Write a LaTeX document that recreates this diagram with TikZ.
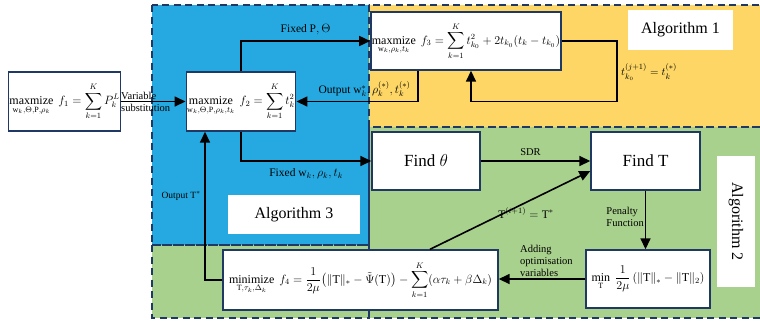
\documentclass[tikz,border=0pt]{standalone}
\usepackage{amsmath,amssymb}
\usepackage{fontspec}
\setmainfont{Liberation Serif}
\usetikzlibrary{arrows.meta,calc}
\definecolor{navy}{HTML}{1F3864}
\definecolor{blueR}{HTML}{25A9E0}
\definecolor{yellowR}{HTML}{FDD666}
\definecolor{greenR}{HTML}{A9D18E}
\newcommand{\maxop}{\mathop{\mathrm{maxmize}}\limits}
\newcommand{\minop}{\mathop{\mathrm{minimize}}\limits}
\begin{document}
\begin{tikzpicture}[x=1pt,y=-1pt,
  region/.style={draw=navy, line width=1.6pt, dash pattern=on 7pt off 4.5pt},
  mbox/.style={draw=navy, fill=white, line width=1.4pt, inner sep=1pt, font=\fontsize{12}{14}\selectfont},
  albox/.style={fill=white, inner sep=0pt, font=\fontsize{16}{18}\selectfont},
  conn/.style={line width=1.6pt, -{Triangle[length=11pt,width=10pt]}},
  lbl/.style={font=\fontsize{10.5}{11}\selectfont, inner sep=0pt, align=left},
]
\fill[white] (0,0) rectangle (760,322);
\useasboundingbox (0,0) rectangle (760,322);
% regions
\fill[blueR] (152,5) rectangle (369,245);
\fill[yellowR] (369,5) rectangle (762,127);
\fill[greenR] (369,127) rectangle (762,318);
\fill[greenR] (152,245) rectangle (369,318);
\draw[region] (152,5) rectangle (369,245);
\draw[region] (369,5) rectangle (764,127);
\draw[region] (369,127) rectangle (764,318);
\draw[region] (152,245) rectangle (369,318);
% boxes
\node[mbox, minimum width=109pt, minimum height=59pt] (f1) at (64.5,101.5)
  {$\maxop_{\mathrm{w}_k,\Theta,\mathrm{P},\rho_k}\ f_1=\displaystyle\sum_{k=1}^{K}P_k^L$};
\node[mbox, minimum width=108pt, minimum height=59pt] (f2) at (241,101.5)
  {$\maxop_{\mathrm{w}_k,\Theta,\mathrm{P},\rho_k,t_k}\ f_2=\displaystyle\sum_{k=1}^{K}t_k^2$};
\node[mbox, minimum width=188pt, minimum height=58pt] (f3) at (466,41)
  {$\maxop_{\mathrm{w}_k,\rho_k,t_k}\ f_3=\displaystyle\sum_{k=1}^{K}t_{k_0}^2+2t_{k_0}(t_k-t_{k_0})$};
\node[albox, minimum width=105pt, minimum height=40pt] (al1) at (680.5,30) {Algorithm 1};
\node[mbox, minimum width=108pt, minimum height=58pt, font=\fontsize{17}{19}\selectfont] (fth) at (426,161) {Find $\theta$};
\node[mbox, minimum width=109pt, minimum height=58pt, font=\fontsize{17}{19}\selectfont] (fT) at (645.5,161) {Find $\mathrm{T}$};
\node[albox, minimum width=38pt, minimum height=131pt] (al2) at (736,221.5) {};
\node[font=\fontsize{16}{18}\selectfont, rotate=-90, inner sep=0pt] (al2t) at (al2.center) {Algorithm 2};
\node[mbox, minimum width=124pt, minimum height=58pt, font=\fontsize{12}{14}\selectfont] (mn) at (648,279)
  {$\min\limits_{\mathrm{T}}\ \dfrac{1}{2\mu}\left(\|\mathrm{T}\|_*-\|\mathrm{T}\|_2\right)$};
\node[mbox, minimum width=275pt, minimum height=60pt, font=\fontsize{12}{14}\selectfont] (f4) at (360.5,280)
  {$\minop_{\mathrm{T},\tau_k,\Delta_k}\ f_4=\dfrac{1}{2\mu}\big(\|\mathrm{T}\|_*-\tilde{\Psi}(\mathrm{T})\big)-\displaystyle\sum_{k=1}^{K}(\alpha\tau_k+\beta\Delta_k)$};
\node[albox, minimum width=132pt, minimum height=39pt] (al3) at (294,214.5) {Algorithm 3};
% helper coordinates
\coordinate (xa) at (418,0);
\coordinate (xb) at (471,0);
\coordinate (xc) at (617,0);
\coordinate (xd) at (430,0);
\coordinate (xe) at (205,0);
\coordinate (yb) at (0,101.5);
% connectors
\draw[conn] (f1.east) -- (f2.west);
\node[lbl, anchor=west] (lvar) at (121,101.5) {Variable\\[1pt]substitution};
\draw[conn] (f2.north) |- (f3.west) node[lbl, pos=0.75, above=5pt, font=\fontsize{11.5}{12}\selectfont] (lfix1) {Fixed $\mathrm{P},\Theta$};
\draw[conn] (f3.south -| xa) |- (f2.east) node[lbl, pos=0.72, above=4pt, font=\fontsize{11.5}{12}\selectfont] (lout) {Output $\mathrm{w}_k^*,\rho_k^{(*)},t_k^{(*)}$};
\draw[conn] (f3.east) -| (xc |- yb) -| (f3.south -| xb);
\node[lbl, anchor=west, font=\fontsize{11}{12}\selectfont] (lt) at (621,72) {$t_{k_0}^{(j+1)}=t_k^{(*)}$};
\draw[conn] (f2.south) |- (fth.west) node[lbl, pos=0.75, below=7pt, font=\fontsize{11.5}{12}\selectfont] (lfix2) {Fixed $\mathrm{w}_k,\rho_k,t_k$};
\draw[conn] (fth.east) -- (fT.west) node[lbl, midway, above=5pt, xshift=-5pt] (lsdr) {SDR};
\draw[conn] (fT.south) -- (fT.south |- mn.north);
\node[lbl, anchor=east] (lpen) at (644,217) {Penalty\\[1pt]Function};
\draw[conn] (mn.west) -- (mn.west -| f4.east);
\node[lbl, anchor=south west] (ladd) at (520,277) {Adding\\[1pt]optimisation\\[1pt]variables};
\draw[conn] (f4.north -| xd) -- ([yshift=-10pt]fT.west);
\node[lbl, font=\fontsize{11.5}{12}\selectfont] (lti) at (526,213) {$\mathrm{T}^{(i+1)}=\mathrm{T}^*$};
\draw[conn] (f4.west) -| (f2.south -| xe);
\node[lbl, anchor=east, font=\fontsize{9.5}{10}\selectfont] (lT) at (201,196) {Output $\mathrm{T}^*$};
\end{tikzpicture}
\end{document}
